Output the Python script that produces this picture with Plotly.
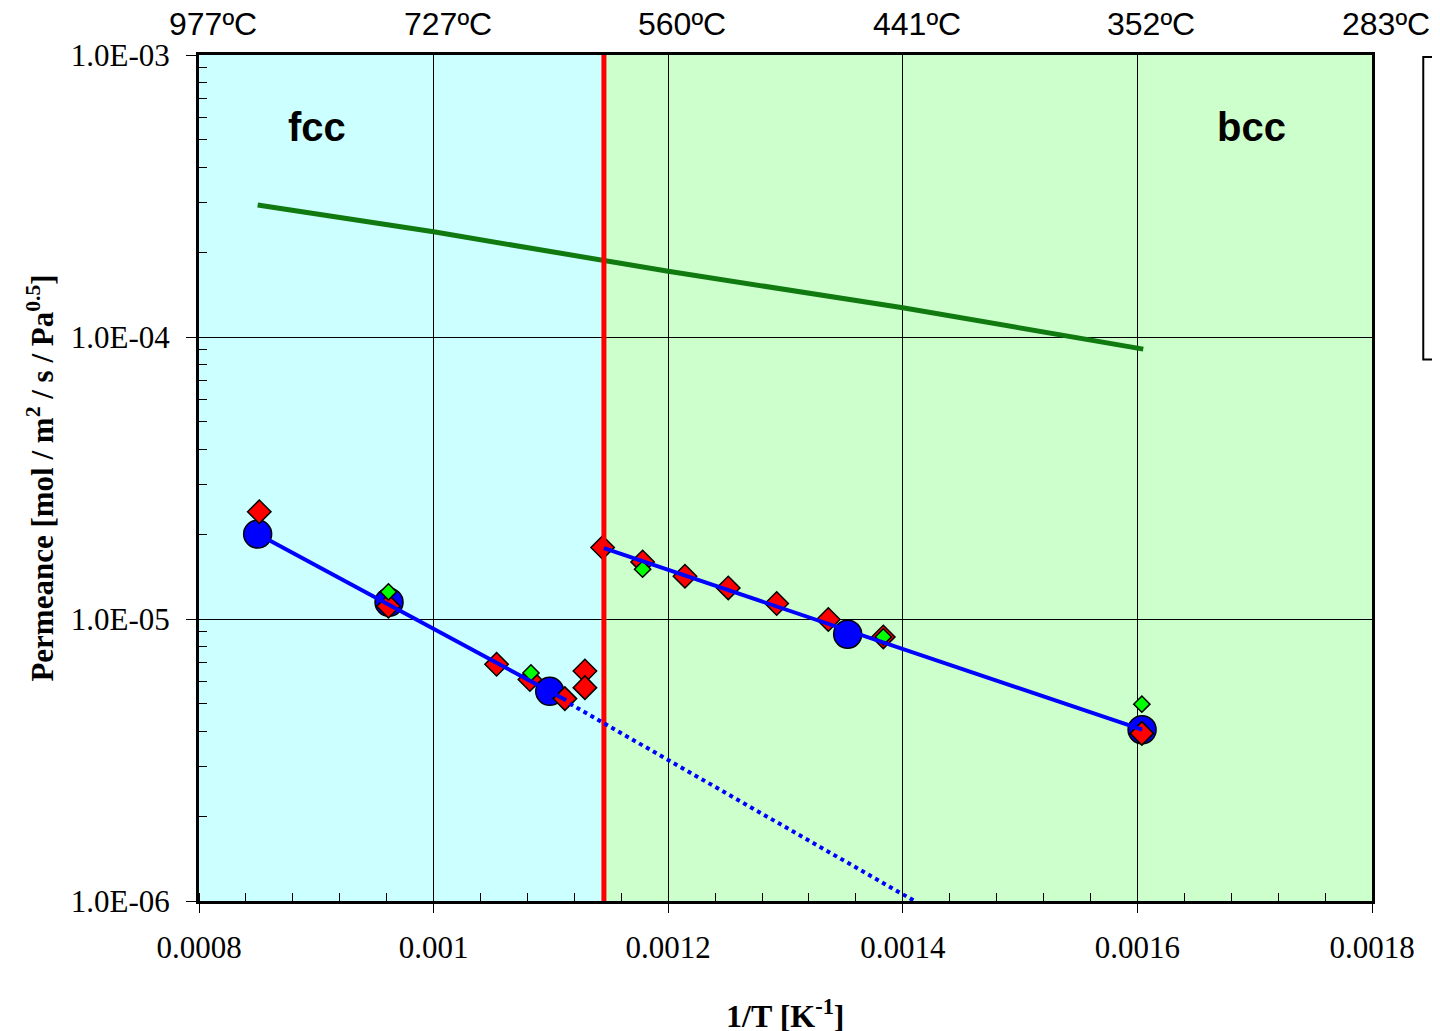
import plotly.graph_objects as go

# ---------------- data ----------------
x_tickvals = [0.0008, 0.001, 0.0012, 0.0014, 0.0016, 0.0018]
x_ticktext = ["0.0008", "0.001", "0.0012", "0.0014", "0.0016", "0.0018"]
top_labels = ["977ºC", "727ºC", "560ºC", "441ºC", "352ºC", "283ºC"]
y_tickvals = [1e-6, 1e-5, 1e-4, 1e-3]
y_ticktext = ["1.0E-06", "1.0E-05", "1.0E-04", "1.0E-03"]
y_minor = [m * 10.0 ** e for e in (-6, -5, -4) for m in range(2, 10)]

phase_boundary = 0.0011452  # fcc / bcc transition (1/T)

# blue circles
circle_x = [0.000850, 0.000962, 0.001099, 0.001353, 0.001604]
circle_y = [2.00e-5, 1.147e-5, 5.54e-6, 8.83e-6, 4.05e-6]

# red diamonds
red_x = [0.0008514, 0.0009615, 0.0010537, 0.0010821, 0.0011119, 0.0011290,
         0.0011290, 0.0011441, 0.0011782, 0.0012143, 0.0012512, 0.0012925,
         0.0013365, 0.0013834, 0.0016038]
red_y = [2.40e-5, 1.110e-5, 6.91e-6, 6.10e-6, 5.22e-6, 6.54e-6,
         5.71e-6, 1.793e-5, 1.594e-5, 1.418e-5, 1.289e-5, 1.135e-5,
         9.96e-6, 8.64e-6, 3.93e-6]

# green diamonds
green_x = [0.0009615, 0.0010830, 0.0011782, 0.0013834, 0.0016038]
green_y = [1.248e-5, 6.44e-6, 1.502e-5, 8.64e-6, 4.99e-6]

# dark green reference curve
ref_x = [0.00085, 0.0010, 0.0012, 0.0014, 0.001605]
ref_y = [2.94e-4, 2.36e-4, 1.71e-4, 1.27e-4, 9.06e-5]

# fitted lines
fcc_fit_x = [0.000850, 0.001113]
fcc_fit_y = [2.00e-5, 5.15e-6]
fcc_ext_x = [0.001116, 0.001410]
fcc_ext_y = [5.01e-6, 1.00e-6]
bcc_fit_x = [0.0011452, 0.001604]
bcc_fit_y = [1.783e-5, 4.05e-6]

phase_labels = ["fcc", "bcc"]
phase_label_x = [0.000901, 0.001697]
phase_label_y = 5.55e-4

x_range = [0.0008, 0.0018]
y_range = [1e-6, 1e-3]

# ---------------- figure ----------------
fig = go.Figure()

fig.add_trace(go.Scatter(x=ref_x, y=ref_y, mode="lines",
                         line=dict(color="#107A10", width=5), hoverinfo="skip"))
fig.add_trace(go.Scatter(x=circle_x, y=circle_y, mode="markers",
                         marker=dict(symbol="circle", size=28, color="#0000FF",
                                     line=dict(color="black", width=1.5))))
fig.add_trace(go.Scatter(x=red_x, y=red_y, mode="markers",
                         marker=dict(symbol="diamond", size=18, color="#FF0000",
                                     line=dict(color="black", width=1.5))))
fig.add_trace(go.Scatter(x=green_x, y=green_y, mode="markers",
                         marker=dict(symbol="diamond", size=12.5, color="#00FF00",
                                     line=dict(color="black", width=1.5))))
fig.add_trace(go.Scatter(x=[phase_boundary, phase_boundary], y=y_range, mode="lines",
                         line=dict(color="#FF0000", width=5)))
fig.add_trace(go.Scatter(x=fcc_fit_x, y=fcc_fit_y, mode="lines",
                         line=dict(color="#0000FF", width=4)))
fig.add_trace(go.Scatter(x=fcc_ext_x, y=fcc_ext_y, mode="lines",
                         line=dict(color="#0000FF", width=4, dash="dot")))
fig.add_trace(go.Scatter(x=bcc_fit_x, y=bcc_fit_y, mode="lines",
                         line=dict(color="#0000FF", width=4)))

# background regions
fig.add_shape(type="rect", xref="x", yref="paper", x0=x_range[0], x1=phase_boundary,
              y0=0, y1=1, fillcolor="#CCFFFF", line=dict(width=0), layer="below")
fig.add_shape(type="rect", xref="x", yref="paper", x0=phase_boundary, x1=x_range[1],
              y0=0, y1=1, fillcolor="#CCFFCC", line=dict(width=0), layer="below")

# empty legend box at the right (clipped by the page edge)
fig.add_shape(type="rect", xref="paper", yref="paper", x0=1.0437, x1=1.08,
              y0=0.64, y1=0.9976, fillcolor="white",
              line=dict(color="black", width=2))

# phase labels
for t, xv in zip(phase_labels, phase_label_x):
    fig.add_annotation(x=xv, y=-3.2554, xref="x", yref="y", text="<b>%s</b>" % t,
                       showarrow=False,
                       font=dict(family="Liberation Sans, Arial", size=40, color="black"))

# top temperature labels
for xv, t in zip(x_tickvals, top_labels):
    fig.add_annotation(x=xv, y=1, xref="x", yref="paper", text=t, showarrow=False,
                       xanchor="center", yanchor="bottom", xshift=14, yshift=11,
                       font=dict(family="Liberation Sans, Arial", size=32, color="black"))

# axis titles
fig.add_annotation(x=-0.1359, y=0.5, xref="paper", yref="paper", textangle=-90,
                   text="<b>Permeance [mol / m<sup>2</sup> / s / Pa<sup>0.5</sup>]</b>",
                   showarrow=False, xanchor="center", yanchor="middle",
                   font=dict(family="Liberation Serif", size=31, color="black"))
fig.add_annotation(x=0.5, y=-0.133, xref="paper", yref="paper",
                   text="<b>1/T [K<sup>-1</sup>]</b>",
                   showarrow=False, xanchor="center", yanchor="middle",
                   font=dict(family="Liberation Serif", size=32, color="black"))

# page has an 8 px body margin: the figure is sized so it ends at the window edge
fig.update_layout(
    width=1432, height=1023,
    margin=dict(l=191, r=68, t=47, b=130),
    paper_bgcolor="white", plot_bgcolor="white",
    showlegend=False,
    font=dict(family="Liberation Serif", size=31, color="black"),
    xaxis=dict(range=x_range, tickmode="array", tickvals=x_tickvals, ticktext=x_ticktext,
               showgrid=True, gridcolor="black", gridwidth=1, zeroline=False,
               showline=True, linecolor="black", linewidth=3, mirror=True,
               ticks="outside", ticklen=9, tickwidth=1, tickcolor="black",
               ticklabelstandoff=8,
               minor=dict(tick0=0.0008, dtick=0.00004, ticks="inside", ticklen=8,
                          tickwidth=1, tickcolor="black", showgrid=False)),
    yaxis=dict(type="log", range=[-6, -3], tickmode="array", tickvals=y_tickvals,
               ticktext=y_ticktext,
               showgrid=True, gridcolor="black", gridwidth=1, zeroline=False,
               showline=True, linecolor="black", linewidth=3, mirror=True,
               ticks="outside", ticklen=10, tickwidth=1, tickcolor="black",
               ticklabelstandoff=10,
               minor=dict(tickmode="array", tickvals=y_minor, ticks="inside", ticklen=8,
                          tickwidth=1, tickcolor="black", showgrid=False)),
)

fig.write_html("out.html")
